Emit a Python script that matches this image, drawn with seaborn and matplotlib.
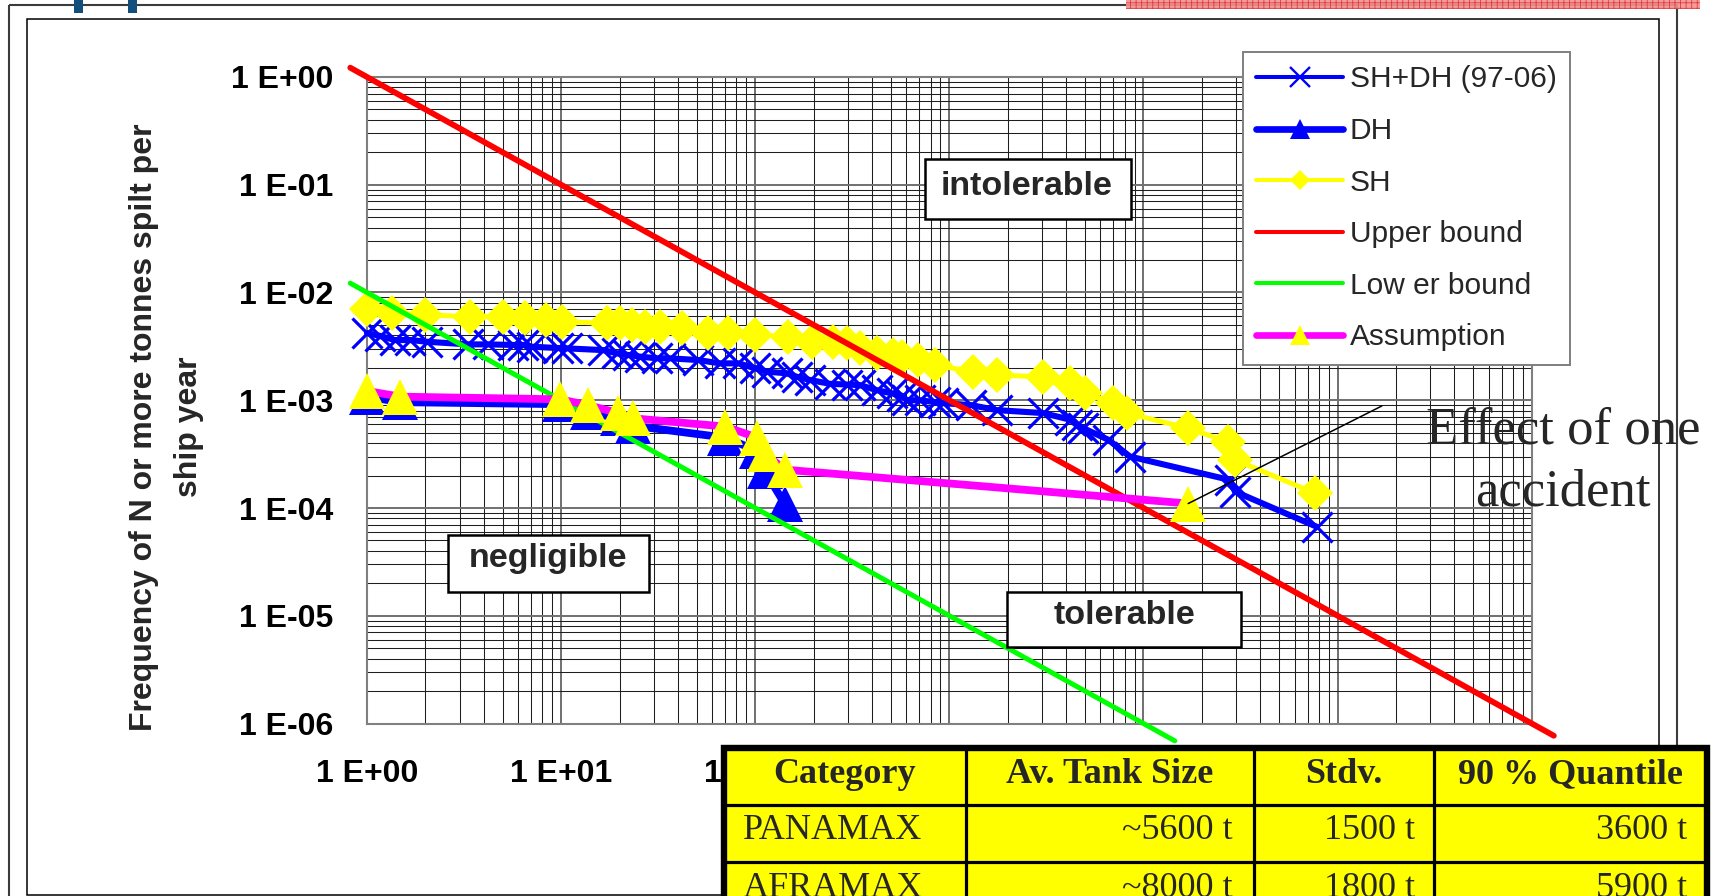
import numpy as np
import matplotlib
matplotlib.use("Agg")
import matplotlib.pyplot as plt
from matplotlib.lines import Line2D
from matplotlib.patches import Rectangle
from matplotlib.ticker import LogLocator, NullFormatter
import seaborn as sns

# ---------------- data ----------------
# SH+DH (97-06): spill size N [t] vs frequency of N or more tonnes per ship year
shdh_n = [1.0, 1.17, 1.39, 1.67, 2.04, 3.33, 4.22, 5.67, 6.39, 7.06, 9.68, 10.7,
          16.5, 19.3, 22.2, 25.5, 31.1, 36.4, 50.9, 65.9, 81.9, 100, 115, 145,
          164, 192, 243, 296, 347, 423, 505, 569, 604, 706, 844, 931, 1300, 1755,
          3050, 4190, 4530, 4900, 6590, 8530, 27900, 29600, 78100]
shdh_f = [4.2e-3, 3.95e-3, 3.62e-3, 3.62e-3, 3.49e-3, 3.3e-3, 3.3e-3, 3.26e-3,
          3.26e-3, 3.14e-3, 3.05e-3, 3.03e-3, 2.92e-3, 2.73e-3, 2.63e-3, 2.54e-3,
          2.45e-3, 2.45e-3, 2.36e-3, 2.2e-3, 2.2e-3, 1.98e-3, 1.84e-3, 1.78e-3,
          1.65e-3, 1.54e-3, 1.42e-3, 1.4e-3, 1.38e-3, 1.24e-3, 1.16e-3, 1.1e-3,
          1.0e-3, 1.0e-3, 9.6e-4, 9.4e-4, 9.0e-4, 8.1e-4, 7.6e-4, 6.6e-4, 5.9e-4,
          5.5e-4, 4.3e-4, 3.0e-4, 1.82e-4, 1.42e-4, 6.7e-5]

# DH
dh_n = [1.0, 1.48, 9.87, 13.8, 19.7, 23.5, 69.9, 102.5, 112, 142]
dh_f = [1.08e-3, 9.6e-4, 9.2e-4, 7.7e-4, 6.8e-4, 5.8e-4, 4.5e-4, 3.4e-4, 2.2e-4, 1.09e-4]

# SH
sh_n = [1.0, 1.34, 2.0, 3.4, 5.0, 6.5, 8.4, 10.1, 17.2, 20.1, 23.1, 27.1, 32.3,
        41.8, 57.3, 72.6, 100, 148, 196, 253, 296, 347, 423, 515, 569, 692, 844,
        1330, 1755, 3050, 4190, 5000, 7000, 8200, 17000, 27400, 29600, 76500]
sh_f = [7.1e-3, 6.4e-3, 6.2e-3, 5.96e-3, 5.96e-3, 5.77e-3, 5.56e-3, 5.36e-3,
        5.18e-3, 5.18e-3, 4.99e-3, 4.82e-3, 4.82e-3, 4.66e-3, 4.18e-3, 4.18e-3,
        4.03e-3, 3.89e-3, 3.49e-3, 3.49e-3, 3.38e-3, 3.03e-3, 2.73e-3, 2.63e-3,
        2.54e-3, 2.36e-3, 2.12e-3, 1.84e-3, 1.71e-3, 1.65e-3, 1.44e-3, 1.16e-3,
        9.4e-4, 7.6e-4, 5.5e-4, 4.1e-4, 2.8e-4, 1.37e-4]

# Upper / lower bound of the ALARP region (F = 1/N and F = 0.01/N)
upper_n = [0.82, 1.3e6]
upper_f = [1.22, 7.7e-7]
lower_n = [0.82, 1.45e4]
lower_f = [1.22e-2, 6.9e-7]

# Assumption
assumption_n = [1.0, 1.48, 9.87, 13.8, 19.7, 23.5, 69.9, 102.5, 112, 142, 17000]
assumption_f = [1.22e-3, 1.08e-3, 1.02e-3, 9.0e-4, 7.6e-4, 6.8e-4, 5.7e-4, 4.5e-4,
                3.2e-4, 2.27e-4, 1.1e-4]

legend_labels = ["SH+DH (97-06)", "DH", "SH", "Upper bound", "Low er bound", "Assumption"]

x_ticks = [1, 10, 100, 1e3, 1e4, 1e5, 1e6]
x_tick_labels = ["1 E+00", "1 E+01", "1 E+02", "1 E+03", "1 E+04", "1 E+05", "1 E+06"]
y_ticks = [1, 1e-1, 1e-2, 1e-3, 1e-4, 1e-5, 1e-6]
y_tick_labels = ["1 E+00", "1 E-01", "1 E-02", "1 E-03", "1 E-04", "1 E-05", "1 E-06"]

region_labels = ["intolerable", "negligible", "tolerable"]
note_lines = ["Effect of one", "accident"]

table_header = ["Category", "Av. Tank Size", "Stdv.", "90 % Quantile"]
table_rows = [["PANAMAX", "~5600 t", "1500 t", "3600 t"],
              ["AFRAMAX", "~8000 t", "1800 t", "5900 t"]]

# ---------------- style ----------------
sns.set_style("white")
plt.rcParams["font.family"] = ["Liberation Sans", "DejaVu Sans"]
plt.rcParams["hatch.linewidth"] = 0.6
SERIF = ["Liberation Serif", "DejaVu Serif"]

BLUE, YELLOW, RED, GREEN, MAGENTA = "#0000ff", "#ffff00", "#ff0000", "#00ff00", "#ff00ff"

W, H, DPI = 1717, 896, 100
fig = plt.figure(figsize=(W / DPI, H / DPI), dpi=DPI, facecolor="white")


def fig_rect(x0, y0, x1, y1):
    return [x0 / W, 1 - y1 / H, (x1 - x0) / W, (y1 - y0) / H]


ax = fig.add_axes(fig_rect(367, 77, 1531.7, 723.5))
ax.set_facecolor("white")
ax.set_xscale("log")
ax.set_yscale("log")

series = [
    dict(x=shdh_n, y=shdh_f, color=BLUE, lw=4.4, marker="x", ms=21, mew=2.3,
         mec=BLUE, mfc=BLUE, z=3.0),
    dict(x=dh_n, y=dh_f, color=BLUE, lw=5.6, marker="^", ms=26, mew=0,
         mec=BLUE, mfc=BLUE, z=3.1),
    dict(x=sh_n, y=sh_f, color=YELLOW, lw=3.6, marker="D", ms=18, mew=0,
         mec=YELLOW, mfc=YELLOW, z=3.2),
    dict(x=upper_n, y=upper_f, color=RED, lw=4.2, marker=None, ms=0, mew=0,
         mec=RED, mfc=RED, z=3.3),
    dict(x=lower_n, y=lower_f, color=GREEN, lw=3.6, marker=None, ms=0, mew=0,
         mec=GREEN, mfc=GREEN, z=3.4),
    dict(x=assumption_n, y=assumption_f, color=MAGENTA, lw=5.6, marker="^", ms=26,
         mew=0, mec=YELLOW, mfc=YELLOW, z=3.5),
]
for s in series:
    sns.lineplot(x=s["x"], y=s["y"], ax=ax, estimator=None, sort=False, legend=False,
                 color=s["color"], linewidth=s["lw"], marker=s["marker"],
                 markersize=s["ms"], markeredgewidth=s["mew"],
                 markeredgecolor=s["mec"], markerfacecolor=s["mfc"],
                 zorder=s["z"], clip_on=False)

ax.set_xlim(1, 1e6)
ax.set_ylim(1e-6, 1)
ax.set_xlabel("")
ax.set_ylabel("")

ax.set_xticks(x_ticks, labels=x_tick_labels)
ax.set_yticks(y_ticks, labels=y_tick_labels)
ax.xaxis.set_minor_locator(LogLocator(base=10, subs=np.arange(2, 10), numticks=100))
ax.yaxis.set_minor_locator(LogLocator(base=10, subs=np.arange(2, 10), numticks=100))
ax.xaxis.set_minor_formatter(NullFormatter())
ax.yaxis.set_minor_formatter(NullFormatter())

ax.grid(True, which="major", color="#707070", lw=1.4)
ax.grid(True, which="minor", color="#1e1e1e", lw=0.75)
for sp in ax.spines.values():
    sp.set_color("#808080")
    sp.set_linewidth(1.5)

ax.tick_params(which="major", direction="out", length=8.5, width=1.0, color="#808080",
               labelsize=23, labelcolor="black")
ax.tick_params(axis="x", which="major", pad=17)
ax.tick_params(axis="y", which="major", pad=16)
ax.tick_params(which="minor", length=0)
for lab in ax.get_xticklabels() + ax.get_yticklabels():
    lab.set_fontweight("bold")

# leader line from the single-accident point to its note
ax.annotate("", xy=(assumption_n[-1], assumption_f[-1]), xytext=(1.69e5, 8.85e-4),
            arrowprops=dict(arrowstyle="-", color="black", lw=1.1, shrinkA=0, shrinkB=0),
            annotation_clip=False, zorder=4)

fig.text(166.5 / W, 1 - 427 / H, "Frequency of N or more tonnes spilt per\nship year",
         rotation=90, ha="center", va="center", multialignment="center",
         fontsize=23, fontweight="bold", linespacing=1.65)

# legend
handles = [
    Line2D([], [], color=BLUE, lw=2.9, marker="x", ms=14, mew=1.7, mec=BLUE,
           solid_capstyle="round"),
    Line2D([], [], color=BLUE, lw=4.8, marker="^", ms=15, mew=0, mfc=BLUE,
           solid_capstyle="round"),
    Line2D([], [], color=YELLOW, lw=2.9, marker="D", ms=10, mew=0, mfc=YELLOW,
           solid_capstyle="round"),
    Line2D([], [], color=RED, lw=2.9, solid_capstyle="round"),
    Line2D([], [], color=GREEN, lw=2.9, solid_capstyle="round"),
    Line2D([], [], color=MAGENTA, lw=4.8, marker="^", ms=15, mew=0, mfc=YELLOW,
           solid_capstyle="round"),
]
leg = fig.legend(handles, legend_labels, loc="upper left",
                 bbox_to_anchor=(1243 / W, 1 - 52 / H), bbox_transform=fig.transFigure,
                 frameon=True, fancybox=False, edgecolor="#7f7f7f", framealpha=1,
                 borderpad=0.45, labelspacing=0.79, handlelength=2.9,
                 handletextpad=0.23, borderaxespad=0, numpoints=1,
                 prop=dict(size=21.5))
leg.get_frame().set_linewidth(1.4)

# ---------------- slide furniture, labels and table (pixel space) ----------------
ov = fig.add_axes([0, 0, 1, 1], zorder=10)
ov.set_xlim(0, W)
ov.set_ylim(H, 0)
ov.axis("off")

# frames
ov.add_patch(Rectangle((9, 5), 1677 - 9, 1000, fill=False, ec="#3c3c3c", lw=1.5))
ov.add_patch(Rectangle((27, 19), 1659 - 27, 895 - 19, fill=False, ec="black", lw=1.1))
# banner strip and header marks
ov.add_patch(Rectangle((1126, -1), 574, 10.5, fc="#f39191", ec="#e03030", hatch="+++",
                       lw=0, alpha=0.9))
ov.add_patch(Rectangle((74, -1), 9, 14, fc="#134f7d", ec="none"))
ov.add_patch(Rectangle((128, -1), 9, 14, fc="#134f7d", ec="none"))

# region boxes
region_boxes = [(925, 159, 1131, 219, 1027, 195),
                (448, 535, 649, 592, 548, 567),
                (1007, 592, 1241, 647, 1124, 624)]
for text, (x0, y0, x1, y1, tx, ty) in zip(region_labels, region_boxes):
    ov.add_patch(Rectangle((x0, y0), x1 - x0, y1 - y0, fc="white", ec="black", lw=1.8))
    ov.text(tx, ty, text, ha="center", va="baseline", fontsize=24.5, fontweight="bold")

# note text
for line, by in zip(note_lines, [443, 506]):
    ov.text(1563, by, line, ha="center", va="baseline", fontsize=38, family=SERIF)

# table
col_edges = [724, 966, 1254, 1434, 1707]
t_top, t_bottom = 748, 905
row_lines = [805, 862]
ov.add_patch(Rectangle((col_edges[0], t_top), col_edges[-1] - col_edges[0],
                       t_bottom - t_top, fc=YELLOW, ec="none"))
for x in col_edges[1:-1]:
    ov.plot([x, x], [t_top, t_bottom], color="black", lw=2.3, solid_capstyle="butt")
for y in row_lines:
    ov.plot([col_edges[0], col_edges[-1]], [y, y], color="black", lw=2.3,
            solid_capstyle="butt")
ov.plot([col_edges[0], col_edges[0], col_edges[-1], col_edges[-1]],
        [t_bottom, t_top, t_top, t_bottom], color="black", lw=4.6,
        solid_joinstyle="miter", solid_capstyle="butt")

for i, head in enumerate(table_header):
    cx = (col_edges[i] + col_edges[i + 1]) / 2
    ov.text(cx, 783, head, ha="center", va="baseline", fontsize=26,
            fontweight="bold", family=SERIF)

body_baselines = [839, 897]
for row, by in zip(table_rows, body_baselines):
    ov.text(743, by, row[0], ha="left", va="baseline", fontsize=26, family=SERIF)
    for val, rx in zip(row[1:], [1233, 1415, 1687]):
        ov.text(rx, by, val, ha="right", va="baseline", fontsize=26, family=SERIF)

fig.savefig("out.png", dpi=DPI, facecolor="white")
